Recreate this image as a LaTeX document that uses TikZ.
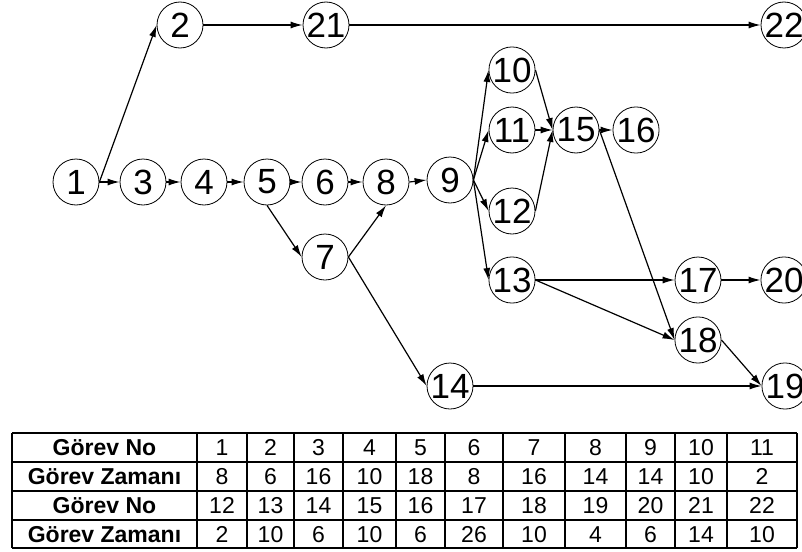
\documentclass[tikz,border=0pt]{standalone}
\usepackage{fontspec}
\setmainfont{Liberation Sans}
\usetikzlibrary{arrows.meta}

\tikzset{
  task/.style={draw, circle, minimum size=46pt, inner sep=0pt, line width=0.8pt,
    font=\fontsize{35}{35}\selectfont},
  link/.style={-{Latex[length=12pt,width=7pt]}, line width=1.2pt},
  cell/.style={text height=16.5pt, text depth=0pt, inner sep=0pt,
    font=\fontsize{23}{23}\selectfont},
  head/.style={cell, font=\fontsize{23}{23}\selectfont\bfseries},
}

\begin{document}
\begin{tikzpicture}[x=1pt,y=-1pt]
  \useasboundingbox (0,0) rectangle (802,551);
  % network
  \node[task] (n1) at (76,182) {1};
  \node[task] (n2) at (180,25) {2};
  \node[task] (n21) at (326,25) {21};
  \node[task] (n22) at (784,25) {22};
  \node[task] (n3) at (143,182) {3};
  \node[task] (n4) at (204,182) {4};
  \node[task] (n5) at (267,182) {5};
  \node[task] (n6) at (325,182) {6};
  \node[task] (n8) at (386,182) {8};
  \node[task] (n7) at (325,257) {7};
  \node[task] (n9) at (450,180) {9};
  \node[task] (n10) at (512,70) {10};
  \node[task] (n11) at (512,130) {11};
  \node[task] (n12) at (512,211) {12};
  \node[task] (n13) at (512,280) {13};
  \node[task] (n15) at (576,130) {15};
  \node[task] (n16) at (636,130) {16};
  \node[task] (n17) at (698,280) {17};
  \node[task] (n20) at (784,280) {20};
  \node[task] (n18) at (698,340) {18};
  \node[task] (n14) at (450,386) {14};
  \node[task] (n19) at (785,386) {19};

  \draw[link] (n1.east) -- (n2.west);
  \draw[link] (n2.east) -- (n21.west);
  \draw[link] (n21.east) -- (n22.west);
  \draw[link] (n1.east) -- (n3.west);
  \draw[link] (n3.east) -- (n4.west);
  \draw[link] (n4.east) -- (n5.west);
  \draw[link] (n5.east) -- (n6.west);
  \draw[link] (n6.east) -- (n8.west);
  \draw[link] (n5.south) -- (n7.west);
  \draw[link] (n7.east) -- (n8.south);
  \draw[link] (n7.east) -- (n14.west);
  \draw[link] (n8.east) -- (n9.west);
  \draw[link] (n9.east) -- (n10.west);
  \draw[link] (n9.east) -- (n11.west);
  \draw[link] (n9.east) -- (n12.west);
  \draw[link] (n9.east) -- (n13.west);
  \draw[link] (n10.east) -- (n15.west);
  \draw[link] (n11.east) -- (n15.west);
  \draw[link] (n12.east) -- (n15.west);
  \draw[link] (n15.east) -- (n16.west);
  \draw[link] (n15.east) -- (n18.west);
  \draw[link] (n13.east) -- (n17.west);
  \draw[link] (n13.east) -- (n18.west);
  \draw[link] (n17.east) -- (n20.west);
  \draw[link] (n18.east) -- (n19.west);
  \draw[link] (n14.east) -- (n19.west);

  % table
  \foreach \ry in {433,462,491,520,548}
    \draw[line width=1.5pt] (12,\ry) -- (797,\ry);
  \foreach \rx in {12,197,247,294,343,396,445,503,565,626,675,727,797}
    \draw[line width=1.5pt] (\rx,433) -- (\rx,548);
  \node[head] (h1) at (104.5,447.5) {Görev No};
  \node[head] (h2) at (104.5,476.5) {Görev Zamanı};
  \node[head] (h3) at (104.5,505.5) {Görev No};
  \node[head] (h4) at (104.5,534) {Görev Zamanı};
  \foreach \cx/\a/\b/\c/\d [count=\i] in {222/1/8/12/2, 270.5/2/6/13/10,
      318.5/3/16/14/6, 369.5/4/10/15/10, 420.5/5/18/16/6, 474/6/8/17/26,
      534/7/16/18/10, 595.5/8/14/19/4, 650.5/9/14/20/6, 701/10/10/21/14,
      762/11/2/22/10} {
    \node[cell] (c\i-1) at (\cx,447.5) {\a};
    \node[cell] (c\i-2) at (\cx,476.5) {\b};
    \node[cell] (c\i-3) at (\cx,505.5) {\c};
    \node[cell] (c\i-4) at (\cx,534) {\d};
  }
\end{tikzpicture}
\end{document}
